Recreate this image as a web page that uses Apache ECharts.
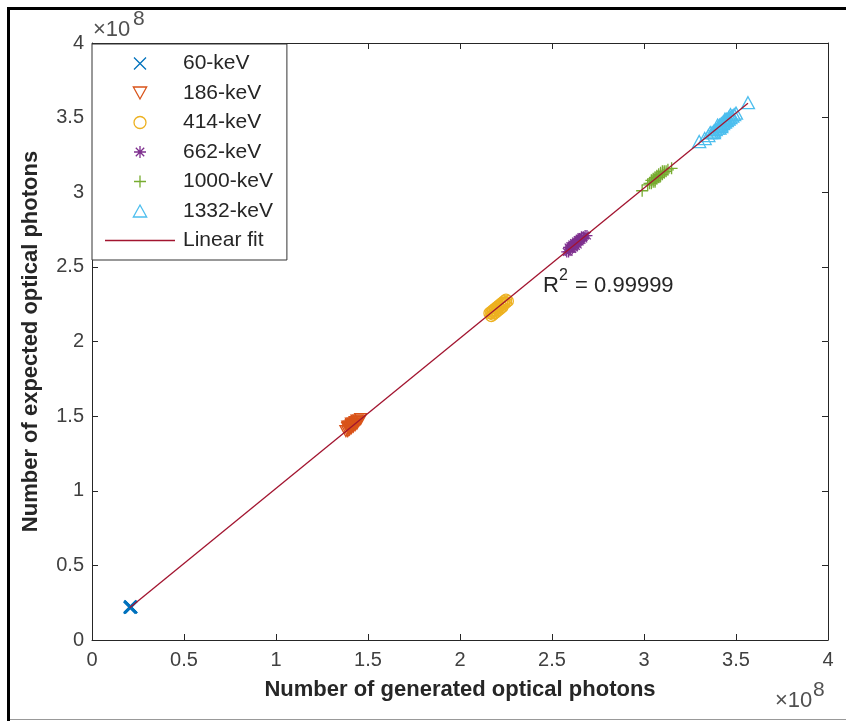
<!DOCTYPE html>
<html>
<head>
<meta charset="utf-8">
<script src="https://cdn.jsdelivr.net/npm/echarts@6/dist/echarts.min.js"></script>
<style>
html,body{margin:0;padding:0;background:#fff;}
#chart{width:846px;height:721px;}
</style>
</head>
<body>
<div id="chart"></div>
<script>
// All values in units of 1e8 photons
const seriesNames = ['60-keV', '186-keV', '414-keV', '662-keV', '1000-keV', '1332-keV'];
const fitName = 'Linear fit';
const r2Text = '0.99999';

const kev60 = [[0.205,0.218],[0.210,0.222],[0.213,0.220],[0.208,0.225],[0.211,0.219]];
const kev186 = [[1.38,1.40],[1.39,1.42],[1.39,1.40],[1.40,1.43],[1.40,1.41],[1.41,1.44],[1.41,1.42],
  [1.42,1.45],[1.42,1.43],[1.43,1.46],[1.43,1.44],[1.44,1.47],[1.44,1.45],[1.45,1.47],[1.46,1.48],
  [1.40,1.42],[1.41,1.43],[1.42,1.44],[1.43,1.45],[1.39,1.43],[1.41,1.45],[1.44,1.46]];
const kev414 = [[2.16,2.19],[2.17,2.20],[2.17,2.17],[2.18,2.21],[2.18,2.18],[2.19,2.22],[2.19,2.19],
  [2.20,2.23],[2.20,2.20],[2.21,2.24],[2.21,2.21],[2.22,2.25],[2.22,2.22],[2.23,2.26],[2.23,2.23],
  [2.24,2.27],[2.24,2.25],[2.25,2.28],[2.25,2.26],[2.26,2.27],[2.19,2.21],[2.20,2.22],[2.21,2.23],
  [2.22,2.24],[2.18,2.20],[2.23,2.25],[2.17,2.19],[2.24,2.26]];
const kev662 = [[2.58,2.60],[2.59,2.63],[2.59,2.60],[2.60,2.64],[2.60,2.62],[2.61,2.65],[2.61,2.62],
  [2.62,2.66],[2.62,2.63],[2.63,2.67],[2.63,2.64],[2.64,2.68],[2.64,2.65],[2.65,2.69],[2.65,2.67],
  [2.66,2.70],[2.66,2.68],[2.67,2.70],[2.68,2.71],[2.61,2.64],[2.62,2.65],[2.63,2.66],[2.64,2.67],
  [2.65,2.68],[2.60,2.63],[2.66,2.69],[2.67,2.69],[2.69,2.71]];
const kev1000 = [[2.99,3.01],[3.02,3.05],[3.03,3.06],[3.04,3.06],[3.05,3.07],[3.05,3.09],[3.06,3.08],
  [3.06,3.10],[3.07,3.09],[3.07,3.11],[3.08,3.10],[3.08,3.12],[3.09,3.11],[3.10,3.12],[3.11,3.14],
  [3.12,3.14],[3.13,3.15],[3.15,3.16],[3.04,3.08],[3.09,3.13],[3.10,3.14],[3.11,3.13],[3.06,3.07]];
const kev1332 = [[3.30,3.34],[3.33,3.36],[3.35,3.38],[3.37,3.40],[3.38,3.41],[3.39,3.42],[3.40,3.43],
  [3.41,3.43],[3.41,3.45],[3.42,3.45],[3.42,3.46],[3.43,3.46],[3.43,3.47],[3.44,3.47],[3.44,3.48],
  [3.45,3.48],[3.45,3.49],[3.46,3.49],[3.46,3.50],[3.47,3.50],[3.48,3.51],[3.49,3.52],[3.50,3.53],
  [3.38,3.40],[3.36,3.40],[3.40,3.45],[3.42,3.44],[3.44,3.49],[3.47,3.52],[3.565,3.60]];

const axisMin = 0, axisMax = 4, axisInterval = 0.5;

const colors = ['#0072BD', '#D95319', '#EDB120', '#7E2F8E', '#77AC30', '#4DBEEE'];
const fitColor = '#A2142F';
const symbols = [
  'path://M0,0L10,10M10,0L0,10',
  'path://M0,0L10,0L5,9Z',
  'circle',
  'path://M5,0L5,10M0,5L10,5M1.5,1.5L8.5,8.5M8.5,1.5L1.5,8.5',
  'path://M5,0L5,10M0,5L10,5',
  'path://M5,0L10,9L0,9Z'
];
const sizes = [12, [12, 11], 11, 11, 12, [13, 12]];
const groups = [kev60, kev186, kev414, kev662, kev1000, kev1332];

// least squares linear fit of all data
const all = groups.flat();
const n = all.length;
let sx=0, sy=0, sxx=0, sxy=0;
all.forEach(p => { sx += p[0]; sy += p[1]; sxx += p[0]*p[0]; sxy += p[0]*p[1]; });
const slope = (n*sxy - sx*sy) / (n*sxx - sx*sx);
const icpt = (sy - slope*sx) / n;
const xs = all.map(p => p[0]);
const xLo = Math.min(...xs), xHi = Math.max(...xs);
const fitData = [[xLo, slope*xLo + icpt], [xHi, slope*xHi + icpt]];

const txtColor = '#262626';
const FF = 'Liberation Sans';

const series = groups.map((g, i) => ({
  name: seriesNames[i],
  type: 'scatter',
  data: g,
  symbol: symbols[i],
  symbolSize: sizes[i],
  itemStyle: { color: 'transparent', borderColor: colors[i], borderWidth: i === 0 ? 2 : 1.3, opacity: 1 },
  emphasis: { disabled: true },
  z: 2
}));
series.push({
  name: fitName,
  type: 'line',
  data: fitData,
  showSymbol: false,
  symbol: 'none',
  lineStyle: { color: fitColor, width: 1.3 },
  itemStyle: { color: fitColor },
  z: 3
});

const legendData = seriesNames.map((nm, i) => ({
  name: nm, icon: symbols[i],
  itemStyle: { color: 'transparent', borderColor: colors[i], borderWidth: 1.3 }
}));
legendData.push({
  name: fitName, icon: 'path://M0,0L70,0L70,1.6L0,1.6Z',
  itemStyle: { color: fitColor, borderWidth: 0 }
});

const chart = echarts.init(document.getElementById('chart'), null, { renderer: 'canvas' });
const axisCommon = {
  type: 'value', min: axisMin, max: axisMax, interval: axisInterval,
  splitLine: { show: false },
  axisLine: { show: true, onZero: false, lineStyle: { color: txtColor, width: 1 } },
  axisTick: { show: true, inside: true, length: 6, lineStyle: { color: txtColor } }
};
const txt = (t, x, y, size, color) => ({
  type: 'text', left: x, top: y,
  style: { text: t, fontSize: size, fontFamily: FF, fill: color }
});
chart.setOption({
  animation: false,
  backgroundColor: '#fff',
  grid: { left: 92, right: 18, top: 43, bottom: 81, containLabel: false },
  xAxis: [
    Object.assign({}, axisCommon, {
      position: 'bottom',
      name: 'Number of generated optical photons',
      nameLocation: 'middle', nameGap: 39,
      nameTextStyle: { fontFamily: FF, fontWeight: 'bold', fontSize: 22, color: txtColor },
      axisLabel: { fontFamily: FF, fontSize: 20, color: '#404040', margin: 10 }
    }),
    Object.assign({}, axisCommon, { position: 'top', axisLabel: { show: false } })
  ],
  yAxis: [
    Object.assign({}, axisCommon, {
      position: 'left',
      name: 'Number of expected optical photons',
      nameLocation: 'middle', nameGap: 50,
      nameTextStyle: { fontFamily: FF, fontWeight: 'bold', fontSize: 22, color: txtColor },
      axisLabel: { fontFamily: FF, fontSize: 20, color: '#404040', margin: 8 }
    }),
    Object.assign({}, axisCommon, { position: 'right', axisLabel: { show: false } })
  ],
  legend: {
    orient: 'vertical',
    left: 92, top: 44,
    padding: [9, 14, 9, 13],
    itemGap: 8.5,
    itemWidth: 70, itemHeight: 12,
    symbolKeepAspect: true,
    backgroundColor: '#fff',
    borderColor: '#333', borderWidth: 1,
    textStyle: { fontFamily: FF, fontSize: 21, color: txtColor, padding: [0,0,0,3] },
    data: legendData
  },
  graphic: [
    { type: 'rect', shape: { x: 7, y: 7, width: 839, height: 3 }, style: { fill: '#000' }, silent: true },
    { type: 'rect', shape: { x: 7, y: 7, width: 3, height: 714 }, style: { fill: '#000' }, silent: true },
    { type: 'rect', shape: { x: 10, y: 719, width: 836, height: 1 }, style: { fill: '#999' }, silent: true },
    txt('×10', 93, 19, 22, '#505050'),
    txt('8', 133, 9, 21, '#505050'),
    txt('×10', 775, 690, 22, '#505050'),
    txt('8', 813, 680, 21, '#505050'),
    txt('R', 543, 275, 22, txtColor),
    txt('2', 559, 268, 16, txtColor),
    txt(' = ' + r2Text, 569, 275, 22, txtColor)
  ],
  series: series
});
</script>
</body>
</html>
